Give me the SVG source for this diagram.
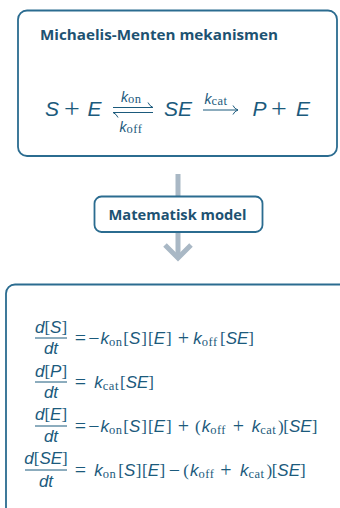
<svg xmlns="http://www.w3.org/2000/svg" width="340" height="508" viewBox="0 0 340 508">
  <style>
    .box { fill: #ffffff; stroke: #2b6c90; stroke-width: 1.8; }
    .head { font-family: "Open Sans", "Liberation Sans", sans-serif; font-weight: bold; fill: #1d5272; }
    .m { font-family: "Liberation Sans", "DejaVu Sans", sans-serif; font-style: italic; fill: #1b5a7c; }
    .r { font-family: "Liberation Serif", "DejaVu Serif", serif; font-style: normal; fill: #1b5a7c; }
    .op { font-family: "Liberation Serif", "DejaVu Serif", serif; font-size: 20px; text-anchor: middle; fill: #1b5a7c; }
    .sub { font-family: "Liberation Serif", "DejaVu Serif", serif; font-style: normal; letter-spacing: 0.5px; fill: #1b5a7c; }
    .rule { stroke: #1b5a7c; stroke-width: 1; fill: none; }
    .flow { stroke: #a9b8c5; stroke-width: 5; fill: none; stroke-linejoin: miter; }
  </style>

  <!-- flow arrow between the reaction and the model -->
  <g id="connectors">
    <line class="flow" x1="178" y1="174" x2="178" y2="197"/>
    <line class="flow" x1="178" y1="232" x2="178" y2="258"/>
    <polyline class="flow" points="165,245 178,258 191,245"/>
  </g>

  <!-- reaction scheme -->
  <g id="mechanism">
    <rect class="box" x="18" y="10.5" width="319" height="145.5" rx="9"/>
    <text class="head" x="40" y="39.5" font-size="14" textLength="238" lengthAdjust="spacingAndGlyphs">Michaelis-Menten mekanismen</text>
    <g font-size="21">
      <text class="m" x="45" y="116.3">S</text>
      <text class="op" x="72" y="118" style="font-size:28px">+</text>
      <text class="m" x="87.5" y="116.3">E</text>
      <text class="m" x="164" y="116.3">SE</text>
      <text class="m" x="252.5" y="116.3">P</text>
      <text class="op" x="279" y="118" style="font-size:28px">+</text>
      <text class="m" x="296" y="116.3">E</text>
    </g>
    <!-- rate labels -->
    <text class="m" x="121" y="101.5" font-size="14">k<tspan class="sub" font-size="12.5" dy="1">on</tspan></text>
    <text class="m" x="119.5" y="131.5" font-size="14">k<tspan class="sub" font-size="12.5" dy="1">off</tspan></text>
    <text class="m" x="204.5" y="103.5" font-size="14">k<tspan class="sub" font-size="12.5" dy="1">cat</tspan></text>
    <!-- equilibrium harpoons and forward arrow -->
    <path class="rule" d="M113 107.5 H153 M153 107.5 q-3.5 -1.5 -5 -5"/>
    <path class="rule" d="M153 112.5 H113 M113 112.5 q3.5 1.5 5 5"/>
    <path class="rule" d="M203 110 H238 M238 110 q-3.5 -1 -5 -4.5 M238 110 q-3.5 1 -5 4.5"/>
  </g>

  <!-- label node -->
  <g id="model">
    <rect class="box" x="94.5" y="196.5" width="168" height="35.5" rx="7"/>
    <text class="head" x="177.5" y="220" font-size="15" text-anchor="middle" textLength="138" lengthAdjust="spacingAndGlyphs">Matematisk model</text>
  </g>

  <!-- rate equations -->
  <g id="equations">
    <rect class="box" x="6" y="284.5" width="360" height="250" rx="9"/>
    <g font-size="17">
      <!-- d[S]/dt -->
      <text class="m" x="51" y="333.3" text-anchor="middle">d<tspan class="r">[</tspan>S<tspan class="r">]</tspan></text>
      <line class="rule" x1="35" y1="338" x2="67" y2="338"/>
      <text class="m" x="51" y="354" text-anchor="middle">dt</text>
      <text class="op" x="80.5" y="345">=</text>
      <text class="op" x="94" y="345">−</text>
      <text class="m" x="100.5" y="344">k<tspan class="sub" font-size="12.5" dy="2">on</tspan></text>
      <text class="m" x="123.3" y="344"><tspan class="r">[</tspan>S<tspan class="r" dx="1">]</tspan><tspan class="r" dx="1">[</tspan>E<tspan class="r" dx="1">]</tspan></text>
      <text class="op" x="183.3" y="345">+</text>
      <text class="m" x="193.3" y="344">k<tspan class="sub" font-size="12.5" dy="2">off</tspan></text>
      <text class="m" x="220" y="344"><tspan class="r">[</tspan>SE<tspan class="r">]</tspan></text>

      <!-- d[P]/dt -->
      <text class="m" x="51" y="376.7" text-anchor="middle">d<tspan class="r">[</tspan>P<tspan class="r">]</tspan></text>
      <line class="rule" x1="35" y1="382" x2="67" y2="382"/>
      <text class="m" x="51" y="398.3" text-anchor="middle">dt</text>
      <text class="op" x="80.5" y="389">=</text>
      <text class="m" x="94.3" y="388">k<tspan class="sub" font-size="12.5" dy="2">cat</tspan></text>
      <text class="m" x="120" y="388"><tspan class="r">[</tspan>SE<tspan class="r">]</tspan></text>

      <!-- d[E]/dt -->
      <text class="m" x="51" y="420" text-anchor="middle">d<tspan class="r">[</tspan>E<tspan class="r">]</tspan></text>
      <line class="rule" x1="35" y1="426" x2="67" y2="426"/>
      <text class="m" x="51" y="442.3" text-anchor="middle">dt</text>
      <text class="op" x="80.5" y="433">=</text>
      <text class="op" x="94" y="433">−</text>
      <text class="m" x="100.5" y="432">k<tspan class="sub" font-size="12.5" dy="2">on</tspan></text>
      <text class="m" x="123.3" y="432"><tspan class="r">[</tspan>S<tspan class="r" dx="1">]</tspan><tspan class="r" dx="1">[</tspan>E<tspan class="r" dx="1">]</tspan></text>
      <text class="op" x="183.3" y="433">+</text>
      <text class="r" x="195" y="432">(</text>
      <text class="m" x="201.7" y="432">k<tspan class="sub" font-size="12.5" dy="2">off</tspan></text>
      <text class="op" x="238.3" y="433">+</text>
      <text class="m" x="251.7" y="432">k<tspan class="sub" font-size="12.5" dy="2">cat</tspan></text>
      <text class="r" x="278" y="432">)</text>
      <text class="m" x="283.3" y="432"><tspan class="r">[</tspan>SE<tspan class="r">]</tspan></text>

      <!-- d[SE]/dt -->
      <text class="m" x="46" y="464" text-anchor="middle">d<tspan class="r">[</tspan>SE<tspan class="r">]</tspan></text>
      <line class="rule" x1="25" y1="470" x2="67" y2="470"/>
      <text class="m" x="46" y="486.7" text-anchor="middle">dt</text>
      <text class="op" x="80.5" y="477">=</text>
      <text class="m" x="94.3" y="476">k<tspan class="sub" font-size="12.5" dy="2">on</tspan></text>
      <text class="m" x="118.3" y="476"><tspan class="r">[</tspan>S<tspan class="r" dx="0.5">]</tspan><tspan class="r" dx="0.5">[</tspan>E<tspan class="r" dx="0.5">]</tspan></text>
      <text class="op" x="174.5" y="477">−</text>
      <text class="r" x="183.3" y="476">(</text>
      <text class="m" x="190" y="476">k<tspan class="sub" font-size="12.5" dy="2">off</tspan></text>
      <text class="op" x="225.8" y="477">+</text>
      <text class="m" x="240" y="476">k<tspan class="sub" font-size="12.5" dy="2">cat</tspan></text>
      <text class="r" x="266.5" y="476">)</text>
      <text class="m" x="271.7" y="476"><tspan class="r">[</tspan>SE<tspan class="r">]</tspan></text>
    </g>
  </g>
</svg>
